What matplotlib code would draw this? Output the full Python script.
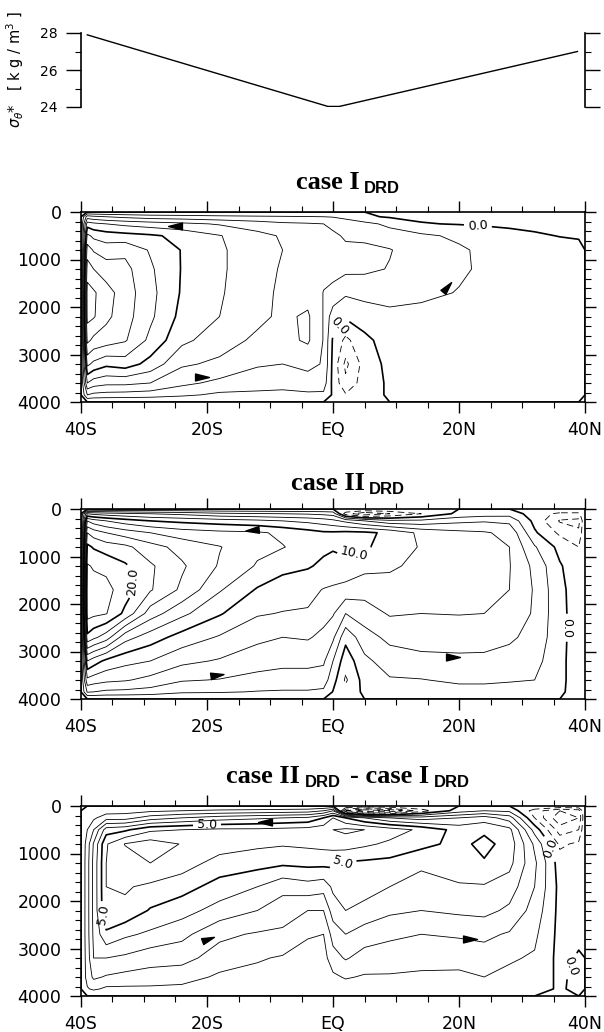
import numpy as np
import matplotlib
matplotlib.use("Agg")
from matplotlib import pyplot as plt
from matplotlib.path import Path

plt.rcParams['font.family'] = ['DejaVu Sans']

# surface restoring density sigma_theta* (top strip)
sig_lat = [-39.0, -0.8, 1.0, 38.8]
sig_val = [27.9, 24.03, 24.03, 27.0]

# grid of the meridional overturning streamfunction [Sv]
lat = [-40, -39, -38, -36, -33, -29, -24, -18, -12, -8, -4, -1.5, 0,
       2, 5, 9, 14, 20, 24, 28, 32, 36, 39, 40]
depth = [0, 100, 250, 500, 800, 1200, 1700, 2200, 2700, 3200, 3600, 3850, 4000]

# one row per latitude, surface -> bottom
psi_case1 = [
    [0, 0, 0, 0, 0, 0, 0, 0, 0, 0, 0, 0, 0],
    [0, 5.0, 9.0, 12.5, 15.0, 17.0, 18.8, 18.6, 16.5, 12.5, 8.0, 4.0, 0],
    [0, 4.5, 8.5, 11.5, 13.8, 16.0, 18.3, 18.2, 15.5, 11.5, 7.0, 3.5, 0],
    [0, 4.0, 8.0, 11.0, 13.0, 15.0, 16.8, 16.5, 15.0, 10.5, 6.5, 3.3, 0],
    [0, 3.5, 7.5, 10.7, 13.5, 14.6, 15.0, 14.8, 14.2, 11.0, 6.5, 3.2, 0],
    [0, 3.0, 7.0, 10.3, 11.8, 12.3, 12.6, 12.4, 11.5, 9.3, 6.0, 3.0, 0],
    [0, 2.8, 6.5, 9.5, 9.9, 9.9, 9.8, 9.4, 8.5, 6.3, 4.5, 2.4, 0],
    [0, 2.5, 5.8, 8.1, 8.3, 8.3, 8.2, 8.0, 6.9, 5.6, 3.5, 1.6, 0],
    [0, 2.3, 5.0, 6.6, 6.8, 6.8, 6.7, 6.5, 5.6, 4.2, 3.0, 1.5, 0],
    [0, 2.2, 4.4, 5.8, 6.0, 5.8, 5.6, 5.6, 5.4, 4.0, 2.8, 1.4, 0],
    [0, 2.1, 4.2, 5.0, 5.1, 5.0, 5.2, 6.3, 6.3, 4.5, 3.2, 1.6, 0],
    [0, 2.0, 4.0, 4.6, 4.6, 4.4, 3.95, 3.9, 3.9, 3.85, 3.0, 1.6, 0],
    [0, 1.9, 3.6, 4.3, 4.5, 4.5, 3.6, 0.8, -0.3, -0.6, -0.6, -0.3, 0],
    [0, 1.5, 3.0, 3.8, 4.3, 4.5, 2.3, 0.3, -2.5, -4.5, -3.5, -1.8, 0],
    [0, 0.3, 2.6, 3.8, 4.2, 4.4, 2.6, 1.0, -0.5, -1.2, -1.0, -0.5, 0],
    [0, -0.2, 1.5, 3.0, 4.1, 3.9, 2.6, 1.6, 0.9, 0.6, 0.3, 0.15, 0],
    [0, -0.3, 0.1, 2.4, 3.0, 3.0, 2.5, 1.3, 0.9, 0.7, 0.5, 0.3, 0],
    [0, -0.4, -0.1, 1.6, 2.3, 2.3, 1.9, 1.0, 0.8, 0.6, 0.5, 0.3, 0],
    [0, -0.4, -0.2, 0.9, 1.6, 1.7, 1.4, 0.9, 0.7, 0.5, 0.4, 0.3, 0],
    [0, -0.4, -0.3, 0.5, 1.2, 1.3, 1.1, 0.8, 0.6, 0.5, 0.4, 0.3, 0],
    [0, -0.4, -0.4, 0.2, 0.9, 1.0, 0.9, 0.7, 0.5, 0.4, 0.3, 0.2, 0],
    [0, -0.4, -0.4, -0.05, 0.6, 0.7, 0.6, 0.5, 0.4, 0.3, 0.2, 0.2, 0],
    [0, -0.3, -0.3, -0.1, 0.3, 0.4, 0.3, 0.3, 0.2, 0.2, 0.1, 0.1, 0],
    [0, 0, 0, 0, 0, 0, 0, 0, 0, 0, 0, 0, 0],
]

psi_case2 = [
    [0, 0, 0, 0, 0, 0, 0, 0, 0, 0, 0, 0, 0],
    [0, 8.0, 14.0, 18.0, 20.5, 22.2, 23.0, 22.8, 19.5, 12.0, 7.5, 4.2, 0],
    [0, 7.5, 13.0, 17.0, 19.8, 21.8, 22.8, 22.5, 18.5, 11.0, 7.0, 4.0, 0],
    [0, 7.0, 12.0, 16.0, 19.0, 21.5, 22.6, 22.1, 17.0, 9.5, 6.5, 3.6, 0],
    [0, 6.5, 11.0, 15.0, 18.5, 20.3, 21.0, 19.5, 12.8, 8.6, 6.2, 3.5, 0],
    [0, 6.0, 10.0, 14.0, 16.8, 18.3, 18.2, 15.0, 11.0, 8.0, 5.4, 3.2, 0],
    [0, 5.5, 9.5, 13.0, 15.3, 16.3, 15.6, 12.5, 9.2, 6.5, 4.2, 2.3, 0],
    [0, 4.5, 9.0, 12.5, 14.1, 13.8, 12.2, 10.2, 7.8, 5.8, 3.9, 2.2, 0],
    [0, 4.2, 8.5, 12.3, 12.5, 11.8, 9.8, 8.2, 6.5, 4.8, 3.4, 1.9, 0],
    [0, 4.0, 8.0, 11.6, 12.1, 10.6, 9.0, 7.9, 6.0, 4.5, 3.2, 1.8, 0],
    [0, 3.8, 7.5, 10.8, 11.2, 10.2, 8.6, 7.8, 6.2, 4.5, 3.2, 1.8, 0],
    [0, 3.5, 7.0, 10.3, 10.4, 9.6, 7.9, 6.7, 5.5, 4.3, 3.0, 1.6, 0],
    [0, 3.2, 6.5, 10.3, 10.2, 9.3, 7.7, 6.2, 4.4, 2.0, 0.8, -0.1, 0],
    [0, -3.0, 5.5, 10.5, 10.6, 9.4, 7.3, 4.0, 0.6, -1.2, -2.3, -1.4, 0],
    [0, -5.5, 4.0, 10.4, 10.2, 8.6, 6.8, 5.0, 3.2, 1.5, 0.8, 0.4, 0],
    [0, -4.0, 2.5, 9.6, 9.4, 8.3, 7.2, 6.2, 4.5, 3.0, 1.8, 0.9, 0],
    [0, -2.0, 2.5, 7.5, 7.8, 7.5, 6.8, 6.0, 4.6, 3.6, 1.9, 1.0, 0],
    [0, 0.5, 3.5, 6.5, 7.0, 6.9, 6.4, 6.1, 4.6, 3.7, 2.4, 1.2, 0],
    [0, 1.0, 3.8, 6.2, 6.6, 6.5, 6.3, 6.0, 4.7, 3.6, 2.4, 1.2, 0],
    [0, 1.2, 3.5, 5.5, 6.0, 6.1, 6.0, 5.6, 4.3, 3.3, 2.2, 1.1, 0],
    [0, -1.0, -0.6, 0.3, 2.2, 3.5, 3.8, 3.7, 3.4, 2.7, 2.0, 1.0, 0],
    [0, -2.5, -4.2, -2.4, -0.6, 0.2, 0.5, 0.6, 0.6, 0.5, 0.4, 0.2, 0],
    [0, -2.5, -4.6, -3.6, -2.0, -1.2, -1.0, -1.0, -1.0, -1.0, -0.8, -0.5, 0],
    [0, 0, 0, 0, 0, 0, 0, 0, 0, 0, 0, 0, 0],
]

psi_diff = [
    [0, 0, 0, 0, 0, 0, 0, 0, 0, 0, 0, 0, 0],
    [0, 0.2, 0.5, 1.0, 1.5, 1.6, 1.6, 1.6, 1.6, 1.5, 1.4, 0.9, 0],
    [0, 0.3, 0.8, 2.0, 3.1, 3.3, 3.3, 3.3, 3.2, 3.0, 2.2, 1.2, 0],
    [0, 0.5, 1.6, 4.5, 5.9, 6.0, 6.0, 5.9, 4.8, 3.0, 1.9, 0.8, 0],
    [0, 0.6, 1.6, 4.8, 7.05, 6.5, 6.1, 5.8, 4.2, 2.8, 1.7, 0.8, 0],
    [0, 0.8, 2.5, 5.8, 7.5, 7.0, 5.8, 4.9, 3.8, 2.4, 1.6, 0.8, 0],
    [0, 1.0, 3.0, 6.0, 6.95, 6.5, 5.4, 4.4, 3.3, 2.3, 1.5, 0.7, 0],
    [0, 1.2, 3.5, 6.2, 6.5, 5.6, 4.6, 3.6, 2.2, 1.6, 0.8, 0.4, 0],
    [0, 1.3, 3.8, 6.2, 6.2, 5.4, 4.0, 3.0, 1.9, 1.1, 0.7, 0.35, 0],
    [0, 1.4, 4.0, 6.3, 6.1, 5.2, 3.3, 2.5, 1.8, 0.9, 0.6, 0.3, 0],
    [0, 1.5, 4.2, 6.4, 6.2, 5.3, 3.6, 2.0, 1.1, 0.6, 0.4, 0.2, 0],
    [0, 2.0, 5.0, 6.6, 6.3, 5.3, 3.4, 2.0, 1.0, 0.6, 0.4, 0.2, 0],
    [0, 3.0, 6.0, 7.0, 6.4, 5.2, 4.2, 3.5, 2.4, 1.6, 0.8, 0.4, 0],
    [0, -3.0, 5.0, 7.2, 6.5, 4.9, 4.6, 4.0, 3.0, 2.1, 1.1, 0.5, 0],
    [0, -5.0, 4.0, 7.0, 6.2, 4.8, 4.4, 3.7, 2.5, 1.6, 0.9, 0.5, 0],
    [0, -4.0, 3.0, 6.5, 5.8, 4.7, 4.0, 3.2, 2.2, 1.5, 0.9, 0.45, 0],
    [0, -1.5, 2.5, 5.8, 5.3, 4.2, 3.6, 3.0, 2.0, 1.4, 0.8, 0.4, 0],
    [0, 0.5, 3.0, 4.6, 4.7, 4.5, 3.9, 3.2, 2.1, 1.5, 0.7, 0.35, 0],
    [0, 1.0, 3.5, 4.8, 5.3, 4.9, 3.9, 3.3, 2.2, 1.6, 1.0, 0.5, 0],
    [0, 0.8, 2.5, 4.3, 4.6, 4.3, 3.5, 2.8, 1.9, 1.1, 0.8, 0.4, 0],
    [0, -1.5, -1.0, 0.6, 1.8, 2.2, 2.0, 1.6, 1.2, 0.9, 0.6, 0.3, 0],
    [0, -3.0, -3.8, -2.5, -1.2, -0.5, -0.3, -0.3, -0.3, -0.3, -0.2, -0.1, 0],
    [0, -2.5, -3.0, -2.0, -0.8, -0.3, -0.2, -0.2, -0.2, 0.1, 0.3, 0.2, 0],
    [0, 0, 0, 0, 0, 0, 0, 0, 0, 0, 0, 0, 0],
]

# flow direction arrows (lat, depth, screen angle)
arrows_case1 = ([-25.0, -20.8, 18.1], [300, 3470, 1575], [180, 0, 50])
arrows_case2 = ([-12.9, -18.4, 19.0], [440, 3505, 3120], [185, 8, 0])
arrows_diff = ([-10.8, -19.9, 21.7], [330, 2790, 2790], [180, 20, 0])

xtick_pos = [-40, -20, 0, 20, 40]
xtick_lab = ['40S', '20S', 'EQ', '20N', '40N']

W, H = 604, 1032
fig = plt.figure(figsize=(W / 100, H / 100), dpi=100)


def tri(angle):
    a = np.deg2rad(angle)
    pts = np.array([[-1, -0.5], [1, 0], [-1, 0.5], [-1, -0.5]])
    rot = np.array([[np.cos(a), -np.sin(a)], [np.sin(a), np.cos(a)]])
    return Path(pts @ rot.T, closed=True)


def frame(ax):
    ax.set_xlim(-40, 40)
    ax.set_ylim(4000, 0)
    ax.set_xticks(xtick_pos)
    ax.set_xticklabels(xtick_lab)
    ax.set_xticks(np.arange(-40, 41, 5), minor=True)
    ax.set_yticks([0, 1000, 2000, 3000, 4000])
    ax.set_yticks(np.arange(0, 4001, 200), minor=True)
    ax.tick_params(which='both', direction='out', top=True, right=True, labelsize=12.5)
    ax.tick_params(which='major', length=8, width=1.0)
    ax.tick_params(which='minor', length=4, width=0.8)
    ax.tick_params(axis='x', pad=6)
    ax.tick_params(axis='y', pad=6)
    for s in ax.spines.values():
        s.set_linewidth(1.2)


def stream_panel(ax, psi, levels, thick, lab_pos, arrows):
    z = np.array(psi, dtype=float).T
    thin = [lv for lv in levels if lv not in thick]
    ls = [(0, (8, 5)) if lv < 0 else 'solid' for lv in thin]
    ax.contour(lat, depth, z, levels=thin, colors='k', linewidths=0.6, linestyles=ls)
    cs = ax.contour(lat, depth, z, levels=thick, colors='k', linewidths=1.2,
                    linestyles='solid')
    ax.clabel(cs, manual=lab_pos, fmt='%.1f', fontsize=9, inline=True, inline_spacing=4)
    for x, y, ang in zip(*arrows):
        ax.plot([x], [y], ls='none', marker=tri(ang), ms=10, color='k', zorder=4)
    frame(ax)


def panel_title(y_px, pieces, cx=348):
    r = fig.canvas.get_renderer()
    made = []
    for gap, s, sub in pieces:
        if sub:
            t = fig.text(0, 0, s, fontsize=12, fontweight='bold',
                         family=['Liberation Sans', 'DejaVu Sans'], va='baseline')
        else:
            t = fig.text(0, 0, s, fontsize=19, fontweight='bold',
                         family=['Liberation Serif', 'DejaVu Serif'], va='baseline')
        made.append((gap, t, sub, t.get_window_extent(renderer=r).width))
    total = sum(g + w for g, _, _, w in made)
    x = cx - total / 2
    for gap, t, sub, w in made:
        x += gap
        t.set_position((x / W, 1 - (y_px + (4 if sub else 0)) / H))
        x += w


# top strip: surface density
ax0 = fig.add_axes([81 / W, 1 - 107 / H, 504 / W, 74 / H])
ax0.plot(sig_lat, sig_val, color='k', lw=1.0)
ax0.set_xlim(-40, 40)
ax0.set_ylim(24, 28)
ax0.spines['top'].set_visible(False)
ax0.spines['bottom'].set_visible(False)
ax0.spines['left'].set_linewidth(1.2)
ax0.spines['right'].set_linewidth(1.2)
ax0.set_xticks([])
ax0.set_yticks([24, 26, 28])
ax0.set_yticks([25, 27], minor=True)
ax0.tick_params(axis='y', which='both', direction='out', left=True, right=True)
ax0.tick_params(axis='y', which='major', length=11, width=1.0, labelsize=10, pad=6)
ax0.tick_params(axis='y', which='minor', length=4, width=0.8)
fig.text(15 / W, 1 - 70 / H, r'$\sigma_\theta$*   [ k g / m$^3$ ]', rotation=90,
         ha='center', va='center', fontsize=10.5)

ax1 = fig.add_axes([81 / W, 1 - 402 / H, 504 / W, 190 / H])
stream_panel(ax1, psi_case1, np.arange(-4, 20, 2), [0, 10],
             [(23, 290), (1.0, 2400)], arrows_case1)

ax2 = fig.add_axes([81 / W, 1 - 699 / H, 504 / W, 190 / H])
stream_panel(ax2, psi_case2, np.arange(-4, 24, 2), [0, 10, 20],
             [(3.5, 1000), (-31, 1500), (37, 2500)], arrows_case2)

ax3 = fig.add_axes([81 / W, 1 - 996 / H, 504 / W, 190 / H])
stream_panel(ax3, psi_diff, np.arange(-5, 8, 1), [0, 5],
             [(-20, 390), (1.5, 1180), (-36.7, 2300), (34.4, 900), (38.5, 3400)],
             arrows_diff)

panel_title(189, [(0, 'case I', False), (4, 'DRD', True)])
panel_title(490, [(0, 'case II', False), (4, 'DRD', True)])
panel_title(783, [(0, 'case II', False), (4, 'DRD', True),
                  (10, '- case I', False), (4, 'DRD', True)])

fig.savefig('out.png', dpi=100)
